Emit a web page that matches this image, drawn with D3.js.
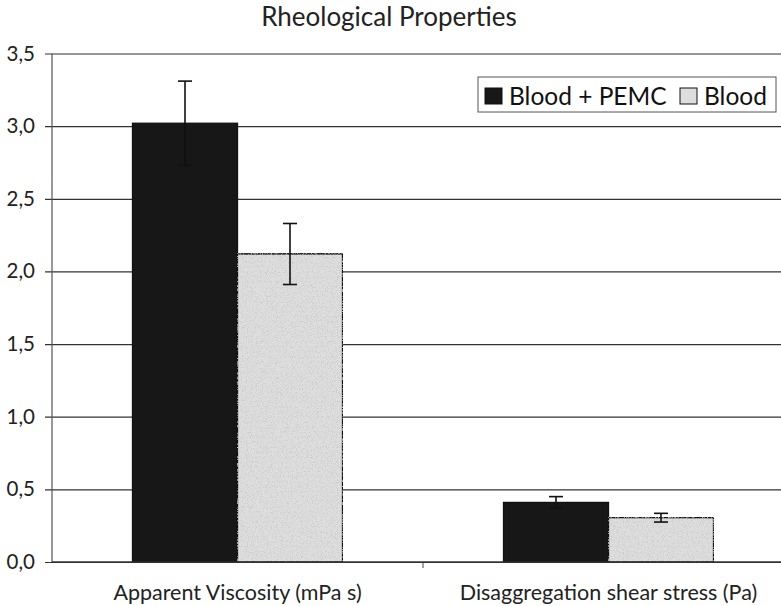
<!DOCTYPE html>
<html>
<head>
<meta charset="utf-8">
<script src="https://cdn.jsdelivr.net/npm/d3@7"></script>
<style>
  body { margin: 0; background: #fff; }
  svg { display: block; font-family: "Lato", "DejaVu Sans", sans-serif; }
</style>
</head>
<body>
<svg id="chart" width="781" height="606"></svg>
<script>
// Rheological measurements: means with standard deviation whiskers
const categories = ["Apparent Viscosity (mPa s)", "Disaggregation shear stress (Pa)"];
const seriesNames = ["Blood + PEMC", "Blood"];
const pemcMeans = [3.02, 0.41];
const pemcErrors = [0.29, 0.04];
const bloodMeans = [2.12, 0.305];
const bloodErrors = [0.21, 0.03];
const yTicks = [0, 0.5, 1.0, 1.5, 2.0, 2.5, 3.0, 3.5];

const fills = ["#171717", "#dedede"];
const FONT = "Lato, sans-serif";

const svg = d3.select("#chart");
const margin = { left: 52, right: -13, top: 53.5, bottom: 44 };
const W = 781, H = 606;
const x0 = margin.left, x1 = W - margin.right;
const yTop = margin.top, yBot = H - margin.bottom;

const y = d3.scaleLinear().domain([0, 3.5]).range([yBot, yTop]);
const xBand = d3.scaleBand().domain(categories).range([x0, x1]).paddingInner(0).paddingOuter(0);
const groupFrac = 0.566;
const xSeries = d3.scaleBand().domain(seriesNames).range([0, xBand.bandwidth() * groupFrac]);

// fine speckle for the light bars
const defs = svg.append("defs");
const f = defs.append("filter").attr("id", "speckle").attr("x", 0).attr("y", 0).attr("width", 1).attr("height", 1);
f.append("feTurbulence").attr("type", "fractalNoise").attr("baseFrequency", 1.2).attr("numOctaves", 1).attr("seed", 7).attr("result", "n");
f.append("feColorMatrix").attr("in", "n").attr("type", "matrix")
  .attr("values", "0 0 0 0 0.55  0 0 0 0 0.55  0 0 0 0 0.55  0 0 0 -3 1.55").attr("result", "dots");
f.append("feComposite").attr("in", "dots").attr("in2", "SourceGraphic").attr("operator", "atop").attr("result", "d2");
f.append("feMerge").selectAll("feMergeNode").data(["SourceGraphic", "d2"]).join("feMergeNode").attr("in", d => d);

// title
svg.append("text").attr("x", 389).attr("y", 26).attr("text-anchor", "middle")
  .attr("font-family", FONT).attr("font-size", 26).attr("fill", "#222").text("Rheological Properties");

// gridlines with left tick stubs
const yAxis = d3.axisLeft(y).tickValues(yTicks).tickSize(-(x1 - x0)).tickPadding(17)
  .tickFormat(d => d3.format(".1f")(d).replace(".", ","));
const gy = svg.append("g").attr("transform", `translate(${x0},0)`).call(yAxis);
gy.select(".domain").remove();
gy.selectAll(".tick line").attr("stroke", "#333").attr("stroke-width", 1.2).attr("x1", -7);
gy.selectAll(".tick text").attr("font-size", 20.5).attr("fill", "#222").attr("font-family", FONT);

// left axis line
svg.append("line").attr("x1", x0).attr("x2", x0).attr("y1", yTop).attr("y2", yBot)
  .attr("stroke", "#555").attr("stroke-width", 1.2);

// category axis
const xAxis = d3.axisBottom(xBand).tickSize(0).tickPadding(23);
const gx = svg.append("g").attr("transform", `translate(0,${yBot})`).call(xAxis);
gx.select(".domain").remove();
gx.selectAll(".tick text").attr("font-size", 21.5).attr("fill", "#222").attr("font-family", FONT);
// divider tick between categories
svg.append("line").attr("x1", xBand(categories[1])).attr("x2", xBand(categories[1]))
  .attr("y1", yBot).attr("y2", yBot + 6).attr("stroke", "#444");

const rows = categories.map((c, i) => ({
  cat: c,
  vals: [
    { s: seriesNames[0], v: pemcMeans[i], e: pemcErrors[i], fill: fills[0], light: false },
    { s: seriesNames[1], v: bloodMeans[i], e: bloodErrors[i], fill: fills[1], light: true }
  ]
}));

const groups = svg.append("g").selectAll("g").data(rows).join("g")
  .attr("transform", d => `translate(${xBand(d.cat) + xBand.bandwidth() * (1 - groupFrac) / 2},0)`);

groups.selectAll("rect").data(d => d.vals).join("rect")
  .attr("x", d => xSeries(d.s))
  .attr("y", d => y(d.v))
  .attr("width", xSeries.bandwidth())
  .attr("height", d => y(0) - y(d.v))
  .attr("fill", d => d.fill)
  .attr("stroke", "#111").attr("stroke-width", 1.3)
  .attr("filter", d => d.light ? "url(#speckle)" : null);

// error bars
const eb = groups.selectAll("g.err").data(d => d.vals).join("g").attr("class", "err")
  .attr("transform", d => `translate(${xSeries(d.s) + xSeries.bandwidth() / 2},0)`);
eb.append("line").attr("y1", d => y(d.v - d.e)).attr("y2", d => y(d.v + d.e))
  .attr("stroke", "#111").attr("stroke-width", 1.6);
eb.selectAll("line.cap").data(d => [d.v - d.e, d.v + d.e]).join("line").attr("class", "cap")
  .attr("x1", -7).attr("x2", 7).attr("y1", d => y(d)).attr("y2", d => y(d))
  .attr("stroke", "#111").attr("stroke-width", 1.6);

// bottom axis line drawn over bars
svg.append("line").attr("x1", x0).attr("x2", W).attr("y1", yBot).attr("y2", yBot)
  .attr("stroke", "#333").attr("stroke-width", 1.3);

// legend
const lg = svg.append("g").attr("transform", "translate(478,77)");
lg.append("rect").attr("width", 298).attr("height", 35).attr("fill", "#fff")
  .attr("stroke", "#555").attr("stroke-width", 1);
const items = [
  { name: seriesNames[0], fill: fills[0], x: 7 },
  { name: seriesNames[1], fill: fills[1], x: 202 }
];
const li = lg.selectAll("g.item").data(items).join("g").attr("class", "item")
  .attr("transform", d => `translate(${d.x},0)`);
li.append("rect").attr("x", 0).attr("y", 11).attr("width", 17).attr("height", 16)
  .attr("fill", d => d.fill).attr("stroke", "#111").attr("stroke-width", 1);
li.append("text").attr("x", 24).attr("y", 28).attr("font-size", 24.5).attr("fill", "#111")
  .attr("font-family", FONT).text(d => d.name);
</script>
</body>
</html>
